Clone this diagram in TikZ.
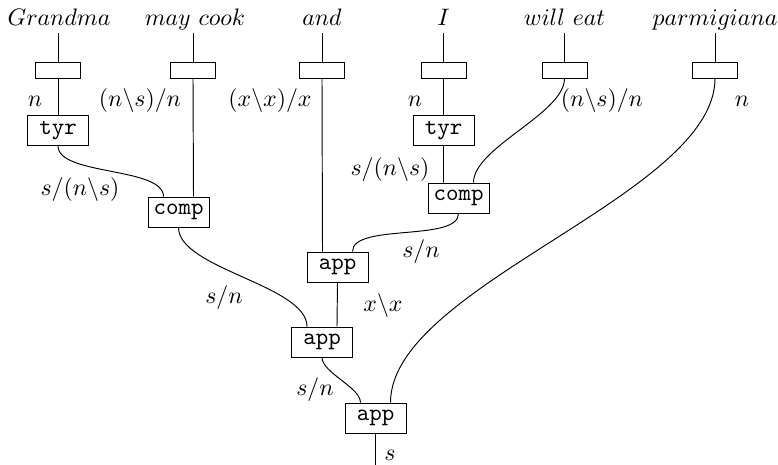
\documentclass[tikz,border=0pt]{standalone}
\usepackage{amsmath}
\tikzset{
  word/.style={anchor=base, text depth=0pt},
  lexbox/.style={draw, minimum width=18.9pt, minimum height=6.7pt, inner sep=0pt},
  rulebox/.style={draw, minimum width=25.6pt, minimum height=12.6pt, inner sep=1pt, font=\ttfamily},
  cat/.style={anchor=base},
  wire/.style={out=-90, in=90, looseness=0.65},
}

\begin{document}
\begin{tikzpicture}[x=0.42pt, y=-0.42pt]
  \useasboundingbox (0,0) rectangle (778,465);

  % words of the sentence
  \node[word] (grandma) at (59,25) {$Grandma$};
  \node[word] (maycook) at (195,25) {$may\ cook$};
  \node[word] (and)     at (322,25) {$and$};
  \node[word] (i)       at (443.5,25) {$I$};
  \node[word] (willeat) at (564.5,25) {$will\ eat$};
  \node[word] (parm)    at (715,25) {$parmigiana$};

  % lexicon boxes
  \node[lexbox] (lx1) at (58,70) {};
  \node[lexbox] (lx2) at (193,70) {};
  \node[lexbox] (lx3) at (322,70) {};
  \node[lexbox] (lx4) at (443.5,70) {};
  \node[lexbox] (lx5) at (564.5,70) {};
  \node[lexbox] (lx6) at (715,70) {};

  % rules
  \node[rulebox] (tyr1)  at (58,130.5) {tyr};
  \node[rulebox] (tyr2)  at (443.5,130.5) {tyr};
  \node[rulebox] (comp1) at (178.5,212) {comp};
  \node[rulebox] (comp2) at (458.5,198) {comp};
  \node[rulebox] (app1)  at (337.5,267) {app};
  \node[rulebox] (app2)  at (322,342) {app};
  \node[rulebox] (app3)  at (375.5,418) {app};
  \coordinate (result) at (375.5,465);

  % wires
  \draw (grandma.south -| lx1) -- (lx1.north);
  \draw (maycook.south -| lx2) -- (lx2.north);
  \draw (and.south -| lx3) -- (lx3.north);
  \draw (i.south -| lx4) -- (lx4.north);
  \draw (willeat.south -| lx5) -- (lx5.north);
  \draw (parm.south -| lx6) -- (lx6.north);

  \draw (lx1.south) -- (tyr1.north);
  \draw (lx2.south) -- ([xshift=6.3pt]comp1.north);
  \draw (lx3.south) -- ([xshift=-6.3pt]app1.north);
  \draw (lx4.south) -- (tyr2.north);
  \draw (lx5.south) to[wire] ([xshift=6.3pt]comp2.north);
  \draw (lx6.south) to[wire] ([xshift=6.3pt]app3.north);

  \draw (tyr1.south) to[wire] ([xshift=-6.3pt]comp1.north);
  \draw (tyr2.south) -- ([xshift=-6.3pt]comp2.north);
  \draw (comp1.south) to[wire] ([xshift=-6.3pt]app2.north);
  \draw (comp2.south) to[wire] ([xshift=6.3pt]app1.north);
  \draw (app1.south) -- ([xshift=6.3pt]app2.north);
  \draw (app2.south) to[wire] ([xshift=-6.3pt]app3.north);
  \draw (app3.south) -- (result);

  % categories
  \node[cat] (c1)  at (35,107)  {$n$};
  \node[cat] (c2)  at (140,107) {$(n\backslash s)/n$};
  \node[cat] (c3)  at (270,107) {$(x\backslash x)/x$};
  \node[cat] (c4)  at (415,107) {$n$};
  \node[cat] (c5)  at (602,107) {$(n\backslash s)/n$};
  \node[cat] (c6)  at (742,107) {$n$};
  \node[cat] (c7)  at (80,195)  {$s/(n\backslash s)$};
  \node[cat] (c8)  at (390,175) {$s/(n\backslash s)$};
  \node[cat] (c9)  at (421,257) {$s/n$};
  \node[cat] (c10) at (383,311) {$x\backslash x$};
  \node[cat] (c11) at (224,303) {$s/n$};
  \node[cat] (c12) at (315,395) {$s/n$};
  \node[cat] (c13) at (390,460) {$s$};
\end{tikzpicture}
\end{document}
